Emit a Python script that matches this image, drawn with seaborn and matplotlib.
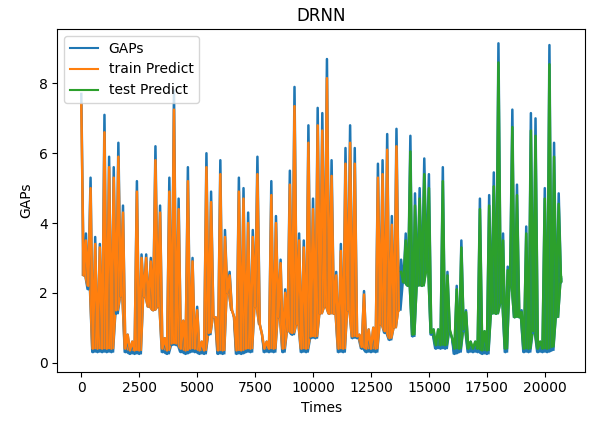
# %% Imports
import numpy as np
import pandas as pd
import matplotlib
matplotlib.use("Agg")
import matplotlib.pyplot as plt
import seaborn as sns

# %% Data (one high / low pair per 200 time steps)
step = 200

gaps_hi = [7.7, 3.7, 5.3, 3.6, 3.4, 7.1, 5.9, 5.6, 6.3, 4.5,
           0.8, 0.6, 5.2, 3.1, 3.1, 3.0, 6.2, 4.5, 0.7, 5.3,
           7.8, 4.7, 1.2, 5.6, 3.0, 1.6, 0.6, 6.0, 4.9, 1.3,
           5.8, 3.8, 2.6, 1.3, 5.3, 5.0, 4.3, 3.8, 5.9, 0.8,
           0.6, 5.2, 4.2, 2.95, 2.1, 5.5, 7.9, 3.7, 3.5, 6.8,
           4.7, 7.3, 7.15, 8.7, 5.8, 2.6, 3.4, 6.15, 6.8, 6.15,
           0.8, 2.05, 0.95, 1.0, 5.7, 5.8, 6.55, 4.2, 6.7, 2.95,
           3.7, 6.5, 4.85, 5.0, 5.85, 5.4, 0.95, 0.95, 5.6, 2.6,
           0.7, 2.2, 3.5, 1.5, 0.6, 0.6, 4.7, 0.9, 4.8, 5.45,
           9.15, 3.7, 2.75, 7.25, 5.1, 1.5, 3.9, 7.15, 7.0, 0.6,
           5.0, 9.1, 6.3, 4.85]
gaps_lo = [2.5, 2.1, 0.3, 0.3, 0.3, 0.3, 0.3, 1.4, 1.9, 0.3,
           0.25, 0.25, 0.25, 1.9, 1.6, 1.5, 1.6, 0.3, 0.25, 0.5,
           0.5, 0.3, 0.25, 0.3, 0.3, 0.25, 0.25, 0.8, 1.3, 0.25,
           0.25, 2.0, 1.5, 0.25, 0.25, 0.3, 0.3, 1.6, 1.1, 0.3,
           0.3, 0.3, 1.3, 0.3, 0.9, 0.8, 1.1, 0.3, 0.3, 0.7,
           0.7, 1.4, 1.6, 1.4, 1.4, 0.3, 0.3, 1.5, 0.7, 0.7,
           0.4, 0.3, 0.3, 0.3, 1.1, 0.85, 0.65, 1.0, 1.5, 2.3,
           2.2, 0.75, 2.2, 2.2, 2.65, 0.8, 0.4, 0.4, 0.4, 0.9,
           0.25, 0.3, 0.9, 0.3, 0.3, 0.3, 0.25, 0.25, 1.4, 1.4,
           1.7, 0.3, 2.2, 1.3, 1.3, 0.3, 0.3, 0.85, 0.3, 0.3,
           0.3, 0.35, 1.3, 2.3]
gaps_end = 2.4

pred_hi = [7.4, 3.5, 5.0, 3.4, 3.3, 6.6, 5.6, 5.3, 5.9, 4.3,
           0.8, 0.6, 4.9, 3.0, 3.0, 2.9, 5.8, 4.3, 0.7, 4.9,
           7.25, 4.4, 1.2, 5.2, 2.9, 1.5, 0.6, 5.6, 4.6, 1.3,
           5.4, 3.6, 2.5, 1.3, 4.9, 4.7, 4.0, 3.6, 5.4, 0.8,
           0.6, 4.8, 4.0, 2.85, 2.0, 5.1, 7.35, 3.5, 3.3, 6.3,
           4.4, 6.8, 6.65, 8.15, 5.35, 2.5, 3.2, 5.7, 6.3, 5.7,
           0.8, 1.95, 0.95, 1.0, 5.3, 5.4, 6.1, 3.95, 6.2, 2.6,
           3.5, 6.05, 4.5, 4.7, 5.4, 5.0, 0.95, 0.95, 5.2, 2.5,
           0.7, 2.1, 3.3, 1.45, 0.6, 0.6, 4.4, 0.9, 4.5, 5.05,
           8.6, 3.5, 2.65, 6.75, 4.8, 1.45, 3.7, 6.65, 6.5, 0.6,
           4.7, 8.55, 5.9, 4.55]
pred_lo = [2.5, 2.2, 0.4, 0.4, 0.4, 0.4, 0.4, 1.5, 1.9, 0.4,
           0.35, 0.35, 0.35, 1.9, 1.6, 1.5, 1.6, 0.4, 0.35, 0.55,
           0.55, 0.4, 0.35, 0.4, 0.4, 0.35, 0.35, 0.85, 1.3, 0.35,
           0.35, 2.0, 1.5, 0.35, 0.35, 0.4, 0.4, 1.6, 1.1, 0.4,
           0.4, 0.4, 1.3, 0.4, 0.9, 0.85, 1.1, 0.4, 0.4, 0.75,
           0.75, 1.4, 1.6, 1.4, 1.4, 0.4, 0.4, 1.5, 0.75, 0.75,
           0.45, 0.4, 0.4, 0.4, 1.1, 0.9, 0.7, 1.0, 1.5, 2.3,
           2.2, 0.8, 2.2, 2.2, 2.6, 0.85, 0.5, 0.5, 0.5, 0.95,
           0.4, 0.4, 0.95, 0.4, 0.4, 0.4, 0.35, 0.35, 1.4, 1.4,
           1.7, 0.4, 2.2, 1.3, 1.3, 0.4, 0.4, 0.9, 0.4, 0.4,
           0.4, 0.45, 1.3, 2.3]
pred_end = 2.45
split_col = 69   # first column of the test part (t = 13800)
t_end = 20700


def zigzag(hi, lo, first_col):
    xs, ys = [], []
    for i, (h, l) in enumerate(zip(hi, lo)):
        c = first_col + i
        xs += [c * step, c * step + step / 2]
        ys += [h, l]
    return xs, ys


def spikes(ax, hi, lo, first_col, color):
    # the original has dozens of samples per pixel, so each spike reads
    # as a solid shape: fill under the zigzag down to the nearby lows
    xs, top, floor = [], [], []
    for i, (h, l) in enumerate(zip(hi, lo)):
        c = first_col + i
        prev_lo = lo[i - 1] if i > 0 else l
        xs += [c * step, c * step + step / 2]
        top += [h, l]
        floor += [min(prev_lo, l), l]
    ax.fill_between(xs, floor, top, color=color, lw=0)


gx, gy = zigzag(gaps_hi, gaps_lo, 0)
gaps_df = pd.DataFrame({"t": gx + [t_end], "v": gy + [gaps_end]})

tx, ty = zigzag(pred_hi[:split_col], pred_lo[:split_col], 0)
train_df = pd.DataFrame({"t": tx, "v": ty})

sx, sy = zigzag(pred_hi[split_col:], pred_lo[split_col:], split_col)
test_df = pd.DataFrame({"t": sx + [t_end], "v": sy + [pred_end]})

# %% Plot
fig = plt.figure(figsize=(6, 4.23), dpi=100)
ax = fig.add_axes([0.0955, 0.1213, 0.8795, 0.8101])

spikes(ax, gaps_hi, gaps_lo, 0, "C0")
sns.lineplot(data=gaps_df, x="t", y="v", ax=ax, color="C0", lw=1.8,
             estimator=None, sort=False, label="GAPs")
spikes(ax, pred_hi[:split_col], pred_lo[:split_col], 0, "C1")
sns.lineplot(data=train_df, x="t", y="v", ax=ax, color="C1", lw=1.8,
             estimator=None, sort=False, label="train Predict")
spikes(ax, pred_hi[split_col:], pred_lo[split_col:], split_col, "C2")
sns.lineplot(data=test_df, x="t", y="v", ax=ax, color="C2", lw=1.8,
             estimator=None, sort=False, label="test Predict")

ax.set_xlim(-1035, 21735)
ax.set_ylim(-0.26, 9.56)
ax.set_xticks([0, 2500, 5000, 7500, 10000, 12500, 15000, 17500, 20000])
ax.set_yticks([0, 2, 4, 6, 8])
ax.set_title("DRNN")
ax.set_xlabel("Times")
ax.set_ylabel("GAPs")
leg = ax.legend(loc="upper left")
for line in leg.get_lines():
    line.set_linewidth(1.5)

fig.savefig("out.png", dpi=100)
